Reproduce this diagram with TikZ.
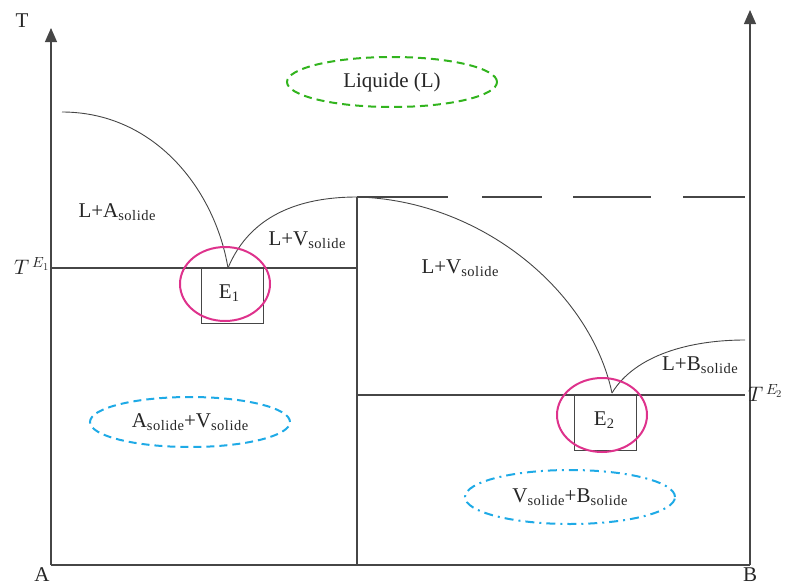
\documentclass[tikz,border=0pt]{standalone}
\usepackage{fontspec}
\setmainfont{Liberation Serif}
\usepackage{unicode-math}
\setmathfont{Latin Modern Math}
\usetikzlibrary{arrows.meta,shapes.geometric}
\definecolor{ln}{RGB}{70,70,70}
\definecolor{mag}{RGB}{222,50,140}
\definecolor{grn}{RGB}{50,180,30}
\definecolor{blu}{RGB}{30,170,230}
\newcommand{\sld}{\raisebox{-0.35ex}{\fontsize{14.5}{15}\selectfont s\kern0.5pt o\kern0.5pt l\kern0.5pt i\kern0.5pt d\kern0.5pt e}}
\newcommand{\subone}[1]{\raisebox{-0.35ex}{\fontsize{14.5}{15}\selectfont #1}}
\begin{document}
\begin{tikzpicture}[x=1pt,y=-1pt,
  lin/.style={draw=ln,line width=1.1pt},
  lab/.style={font=\fontsize{21}{24}\selectfont,inner sep=0pt,text=black!85},
  eut/.style={draw=mag,line width=2pt},
  box/.style={draw=ln,line width=1.1pt}]
\useasboundingbox (0,0) rectangle (785,587);
% axes
\coordinate (A0) at (51,565);
\coordinate (Atop) at (51,28);
\coordinate (B0) at (750,565);
\coordinate (Btop) at (750,10);
\draw[lin,-{Triangle[length=14pt,width=12pt]}] (A0) -- (Atop);
\draw[lin,-{Triangle[length=14pt,width=12pt]}] (B0) -- (Btop);
\draw[lin] (A0) -- (B0);
\coordinate (M0) at (357,565);
\coordinate (Mtop) at (357,197);
\draw[lin] (M0) -- (Mtop);
% eutectic lines
\coordinate (E1l) at (51,268);
\coordinate (E1r) at (357,268);
\draw[lin] (E1l) -- (E1r);
\coordinate (E2l) at (357,395);
\coordinate (E2r) at (745,395);
\draw[lin] (E2l) -- (E2r);
% dashed top
\coordinate (Dr) at (745,197);
\draw[lin,dash pattern=on 91pt off 34pt on 60pt off 31pt on 78pt off 32pt on 62pt off 40pt] (Mtop) -- (Dr);
% curves
\coordinate (P1) at (62,112);
\coordinate (E1p) at (228,268);
\coordinate (E2p) at (612,393);
\coordinate (P4) at (745,340);
\draw[lin,line width=0.9pt] (P1) .. controls (155,112) and (215,190) .. (E1p);
\draw[lin,line width=0.9pt] (E1p) .. controls (250,215) and (300,197) .. (Mtop);
\draw[lin,line width=0.9pt] (Mtop) .. controls (480,200) and (590,290) .. (E2p);
\draw[lin,line width=0.9pt] (E2p) .. controls (635,355) and (690,340) .. (P4);
% eutectic boxes
\node[box,minimum width=62pt,minimum height=55pt,anchor=north west,inner sep=0pt] (b1) at (201,268) {};
\node[lab] (e1) at (229,293) {E\subone{1}};
\draw[eut] (225,284) ellipse (45pt and 37pt);
\node[box,minimum width=62pt,minimum height=55pt,anchor=north west,inner sep=0pt] (b2) at (574,395) {};
\node[lab] (e2) at (604,420) {E\subone{2}};
\draw[eut] (602,415) ellipse (45pt and 37pt);
% region labels
\node[lab] (T) at (22,21) {T};
\node[lab] (A) at (42,575) {A};
\node[lab] (B) at (750,575) {B};
\node[lab,anchor=east] (TE1) at (50,266) {$T^{\,E_1}$};
\node[lab,anchor=west] (TE2) at (748,393) {$T^{\,E_2}$};
\node[lab] (las) at (117,212) {L+A\sld};
\node[lab] (lv1) at (307,240) {L+V\sld};
\node[lab] (lv2) at (460,268) {L+V\sld};
\node[lab] (lbs) at (700,365) {L+B\sld};
\node[lab,draw=grn,line width=2pt,dash pattern=on 8pt off 5pt,ellipse,minimum width=210pt,minimum height=50pt] (liq) at (392,82) {Liquide (L)};
\node[lab,draw=blu,line width=2pt,dash pattern=on 8pt off 5pt,ellipse,minimum width=200pt,minimum height=50pt,inner sep=0pt] (av) at (190,422) {A\sld+V\sld};
\node[lab,draw=blu,line width=2pt,dash pattern=on 9pt off 5pt on 2pt off 5pt,ellipse,minimum width=210pt,minimum height=54pt,inner sep=0pt] (vb) at (570,497) {V\sld+B\sld};
\end{tikzpicture}
\end{document}
